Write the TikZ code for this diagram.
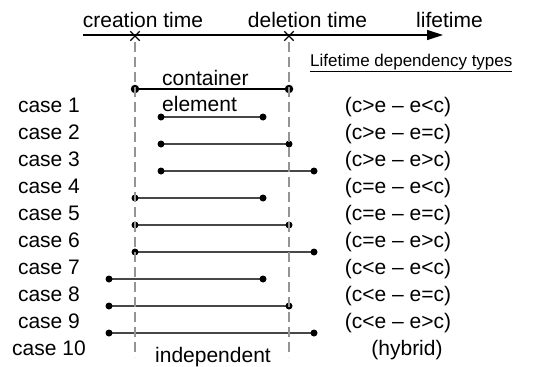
\documentclass[tikz,border=0pt]{standalone}
\usepackage{fontspec}
\setmainfont{Liberation Sans}
\usetikzlibrary{arrows.meta,shapes.misc}
\begin{document}
\begin{tikzpicture}[x=1pt,y=-1pt,
  font=\fontsize{21}{25}\selectfont,
  lbl/.style={inner sep=0pt, anchor=base},
  dotb/.style={circle, fill=black, inner sep=0pt, minimum size=7pt},
  bigdot/.style={circle, fill=black, inner sep=0pt, minimum size=8.5pt},
  seg/.style={line width=1.4pt, draw=black!72},
  guide/.style={draw=black!42, line width=2.3pt, dash pattern=on 10pt off 5pt},
  xmark/.style={cross out, draw=black, line width=1.3pt, minimum size=8pt, inner sep=0pt}]
\useasboundingbox (0,0) rectangle (552,367);
% time axis
\coordinate (axs) at (83,35);
\coordinate (axe) at (443,35);
\draw[line width=1.3pt, -{Triangle[length=16pt,width=10pt]}] (axs) -- (axe);
\node[lbl] (tc) at (143,27) {creation time};
\node[lbl] (td) at (307.5,27) {deletion time};
\node[lbl] (tl) at (449.5,27) {lifetime};
\node[lbl, anchor=base west, font=\fontsize{17}{20}\selectfont] (types) at (310,66) {\underline{Lifetime dependency types}};
% container
\coordinate (cs) at (135,89);
\coordinate (ce) at (289,89);
\draw[line width=2.2pt] (cs) -- (ce);
\node[bigdot] (cds) at (cs) {};
\node[bigdot] (cde) at (ce) {};
\node[lbl, anchor=base west] (cont) at (162,85) {container};
\node[lbl, anchor=base west] (elem) at (162,111) {element};
% cases
\foreach \i/\xs/\xe in {1/161/263,2/161/289,3/161/314,4/135/263,5/135/289,6/135/314,7/109/263,8/109/289,9/109/314}{
  \pgfmathsetmacro{\yy}{117+27*(\i-1)}
  \coordinate (s\i) at (\xs,\yy);
  \coordinate (e\i) at (\xe,\yy);
  \draw[seg] (s\i) -- (e\i);
  \node[dotb] (ds\i) at (s\i) {};
  \node[dotb] (de\i) at (e\i) {};
  \node[lbl] (case\i) at (49,\yy-5) {case \i};
}
\node[lbl] (case10) at (49,355) {case 10};
\node[lbl] (r1) at (398,112) {(c>e – e<c)};
\node[lbl] (r2) at (398,139) {(c>e – e=c)};
\node[lbl] (r3) at (398,166) {(c>e – e>c)};
\node[lbl] (r4) at (398,193) {(c=e – e<c)};
\node[lbl] (r5) at (398,220) {(c=e – e=c)};
\node[lbl] (r6) at (398,247) {(c=e – e>c)};
\node[lbl] (r7) at (398,274) {(c<e – e<c)};
\node[lbl] (r8) at (398,301) {(c<e – e=c)};
\node[lbl] (r9) at (398,328) {(c<e – e>c)};
\node[lbl] (r10) at (407,355) {(hybrid)};
\node[lbl] (indep) at (213,362) {independent};
% guides
\coordinate (g1t) at (135,42);
\coordinate (g1b) at (135,357);
\coordinate (g2t) at (289,42);
\coordinate (g2b) at (289,357);
\draw[guide] (g1t) -- (g1b);
\draw[guide] (g2t) -- (g2b);
\node[xmark] (x1) at (135,36) {};
\node[xmark] (x2) at (289,36) {};
\end{tikzpicture}
\end{document}
